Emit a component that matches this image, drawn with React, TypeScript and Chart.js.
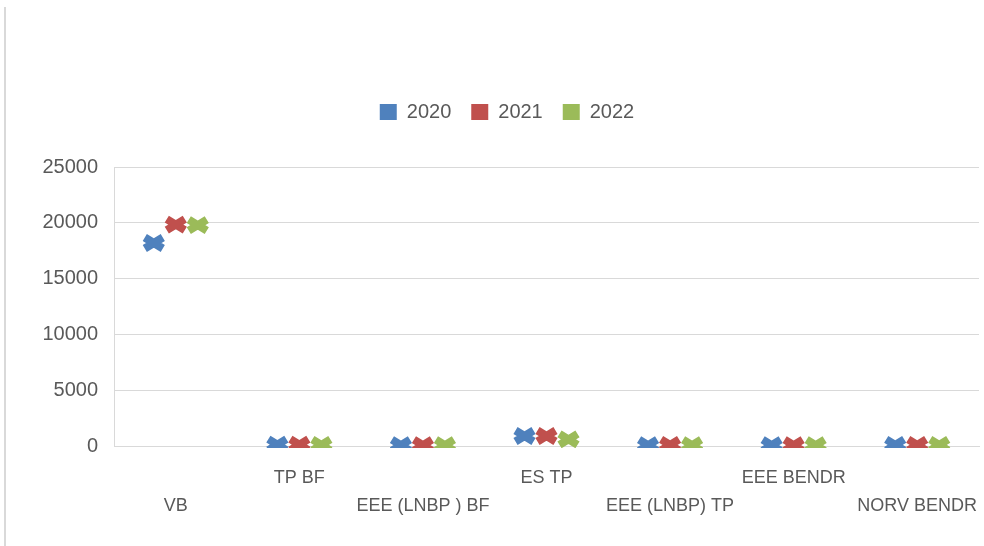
import React, { useEffect, useRef } from 'react';
import { Chart, registerables } from 'chart.js';

Chart.register(...registerables);

const categories = ['VB', 'TP BF', 'EEE (LNBP ) BF', 'ES TP', 'EEE (LNBP) TP', 'EEE BENDR', 'NORV BENDR'];
const seriesNames = ['2020', '2021', '2022'];
const values2020 = [18200, 120, 80, 900, 80, 80, 100];
const values2021 = [19850, 120, 80, 900, 100, 80, 100];
const values2022 = [19800, 100, 80, 600, 80, 80, 100];
const seriesColors = ['#4F81BD', '#C0504D', '#9BBB59'];
const yTicks = [0, 5000, 10000, 15000, 20000, 25000];

const FONT = '"Liberation Sans", Arial, sans-serif';

const crossPlugin = {
  id: 'crossMarkers',
  beforeDatasetDraw() {
    return false; // bars themselves are invisible; markers drawn below
  },
  afterDatasetsDraw(chart: any) {
    const { ctx, chartArea } = chart;
    ctx.save();
    ctx.beginPath();
    ctx.rect(chartArea.left, chartArea.top - 30, chartArea.right - chartArea.left, chartArea.bottom - chartArea.top + 32);
    ctx.clip();
    chart.data.datasets.forEach((ds: any, i: number) => {
      const meta = chart.getDatasetMeta(i);
      if (!chart.isDatasetVisible(i)) return;
      meta.data.forEach((el: any) => {
        const x = el.x;
        const y = el.y;
        ctx.strokeStyle = ds.backgroundColor;
        ctx.lineWidth = 8;
        ctx.lineCap = 'butt';
        ctx.beginPath();
        ctx.moveTo(x - 9, y - 5.5);
        ctx.lineTo(x + 9, y + 5.5);
        ctx.moveTo(x - 9, y + 5.5);
        ctx.lineTo(x + 9, y - 5.5);
        ctx.stroke();
      });
    });
    ctx.restore();
  },
};

export default function App() {
  const ref = useRef<HTMLCanvasElement | null>(null);

  useEffect(() => {
    if (!ref.current) return;
    const labels = categories.map((c, i) => (i % 2 === 0 ? ['', c] : [c, '']));
    const allValues = [values2020, values2021, values2022];
    const chart = new Chart(ref.current, {
      type: 'bar',
      data: {
        labels,
        datasets: seriesNames.map((name, i) => ({
          label: name,
          data: allValues[i],
          backgroundColor: seriesColors[i],
          borderColor: seriesColors[i],
          categoryPercentage: 0.534,
          barPercentage: 1,
        })),
      },
      options: {
        animation: false,
        responsive: false,
        maintainAspectRatio: false,
        layout: { padding: { left: 35, right: 5, top: 82, bottom: 0 } },
        plugins: {
          tooltip: { enabled: false },
          legend: {
            position: 'top',
            align: 'center',
            weight: 2000,
            labels: {
              boxWidth: 17,
              boxHeight: 16,
              padding: 20,
              color: '#595959',
              font: { family: FONT, size: 20 },
            },
          },
          subtitle: {
            display: true,
            text: ' ',
            position: 'top',
            weight: 500,
            font: { size: 1 },
            padding: { top: 34, bottom: 0 },
          },
        },
        scales: {
          x: {
            grid: { display: false, drawTicks: false },
            border: { display: true, color: '#d9d9d9' },
            ticks: {
              color: '#595959',
              font: { family: FONT, size: 18, lineHeight: 1.55 },
              maxRotation: 0,
              autoSkip: false,
              padding: 18,
            },
            afterFit(scale: any) {
              scale.height = 100;
              scale.paddingLeft = 0;
              scale.paddingRight = 0;
            },
          },
          y: {
            min: 0,
            max: 25000,
            afterBuildTicks(scale: any) {
              scale.ticks = yTicks.map((v) => ({ value: v }));
            },
            grid: { color: '#d9d9d9', drawTicks: false },
            border: { display: true, color: '#d9d9d9' },
            ticks: {
              color: '#595959',
              font: { family: FONT, size: 20 },
              padding: 16,
              callback: (v: any) => String(v),
            },
            afterFit(scale: any) {
              scale.width = 79;
              scale.paddingTop = 0;
              scale.paddingBottom = 0;
            },
          },
        },
      },
      plugins: [crossPlugin],
    } as any);
    return () => chart.destroy();
  }, []);

  return (
    <div style={{ position: 'absolute', left: 0, top: 0, width: 984, height: 546, background: '#fff', overflow: 'hidden' }}>
      <div style={{ position: 'absolute', left: 4, top: 7, width: 2, height: 539, background: '#d9d9d9' }} />
      <canvas ref={ref} width={984} height={546} style={{ position: 'absolute', left: 0, top: 0, width: 984, height: 546 }} />
    </div>
  );
}
